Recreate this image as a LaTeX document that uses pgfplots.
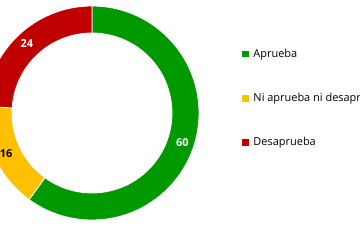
\documentclass[border=0pt]{standalone}
\usepackage{pgfplots}
\pgfplotsset{compat=1.18}
\usepackage{fontspec}
\setmainfont{Open Sans}
\definecolor{cgreen}{HTML}{009A00}
\definecolor{cyellow}{HTML}{FFC000}
\definecolor{cred}{HTML}{C00000}
\newcommand\slice[4]{%
  \pgfmathsetmacro\sa{90-3.6*#1}%
  \pgfmathsetmacro\ea{90-3.6*(#1+#2)}%
  \pgfmathsetmacro\ma{(\sa+\ea)/2}%
  \edef\doslice{%
  \noexpand\fill[#3,draw=white,line width=0.8pt] (axis cs:{107*cos(\sa)},{107*sin(\sa)}) arc[start angle=\sa,end angle=\ea,radius=107bp] -- (axis cs:{80*cos(\ea)},{80*sin(\ea)}) arc[start angle=\ea,end angle=\sa,radius=80bp] -- cycle;
  \noexpand\node[font=\noexpand\fontsize{11}{13}\noexpand\selectfont\noexpand\bfseries,text=#4] at (axis cs:{95*cos(\ma)},{95*sin(\ma)}) {#2};}%
  \doslice
}
\begin{document}
\begin{tikzpicture}[x=1bp,y=1bp]
\path[use as bounding box] (0,0) rectangle (360,240);
\clip (0,0) rectangle (360,240);
\begin{axis}[
  at={(92,127)}, anchor=origin,
  x=1bp, y=1bp, scale only axis,
  xmin=-110, xmax=110, ymin=-110, ymax=110,
  hide axis, clip=false,
  legend style={draw=none, fill=none, at={(1.18,0.568)}, anchor=west,
    font=\fontsize{11}{12}\selectfont, row sep=30.5bp,
    cells={anchor=west}, inner sep=0pt},
  legend image code/.code={\fill[#1] (0bp,-2.9bp) rectangle (5.8bp,2.9bp);},
  /tikz/every odd column/.append style={column sep=3.5bp},
]
\slice{0}{60}{cgreen}{white}
\slice{60}{16}{cyellow}{black}
\slice{76}{24}{cred}{white}
\addlegendimage{cgreen}
\addlegendentry{Aprueba}
\addlegendimage{cyellow}
\addlegendentry{Ni aprueba ni desaprueba}
\addlegendimage{cred}
\addlegendentry{Desaprueba}
\end{axis}
\end{tikzpicture}
\end{document}
